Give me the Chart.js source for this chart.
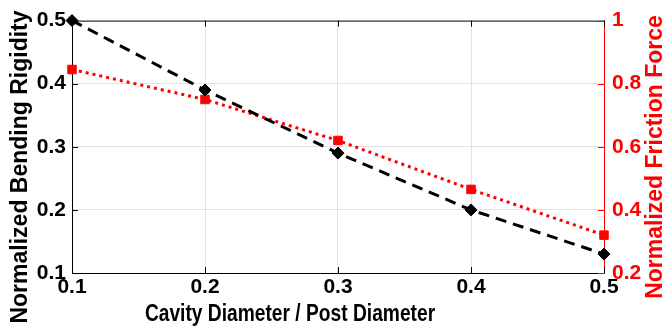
<!DOCTYPE html>
<html>
<head>
<meta charset="utf-8">
<script src="https://cdn.jsdelivr.net/npm/chart.js@4.4.0/dist/chart.umd.min.js"></script>
<style>
  html, body { margin: 0; padding: 0; background: #fff; }
  #wrap { width: 663px; height: 326px; }
</style>
</head>
<body>
<div id="wrap"><canvas id="rigidityChart" width="663" height="326"></canvas></div>
<script>
// values
var diameterRatio = [0.1, 0.2, 0.3, 0.4, 0.5];
var bendingRigidity = [0.5, 0.39, 0.29, 0.2, 0.13];
var frictionForce = [0.845, 0.75, 0.62, 0.465, 0.32];

var xTicks = [0.1, 0.2, 0.3, 0.4, 0.5];
var leftTicks = [0.1, 0.2, 0.3, 0.4, 0.5];
var rightTicks = [0.2, 0.4, 0.6, 0.8, 1];

var xTitle = 'Cavity Diameter / Post Diameter';
var leftTitle = 'Normalized Bending Rigidity';
var rightTitle = 'Normalized Friction Force';

var FONT = "'Liberation Sans', Arial, Helvetica, sans-serif";
var RED = '#ff0000';
var GRID = '#e2e2e2';

function fixedTicks(values) {
    return function (scale) {
        scale.ticks = values.map(function (v) { return { value: v }; });
    };
}
function tickText(v) { return String(Math.round(v * 10) / 10); }
function innerGrid(n) {
    return function (c) {
        return (c.index === 0 || c.index === n - 1) ? 'rgba(0,0,0,0)' : GRID;
    };
}

// MATLAB style frame: top edge plus inward ticks, and the three axis titles
var framePlugin = {
    id: 'frame',
    beforeDatasetsDraw: function (chart) {
        var ctx = chart.ctx, a = chart.chartArea;
        var sx = chart.scales.x, sy = chart.scales.y, sy2 = chart.scales.y2;
        var len = 6;
        ctx.save();
        ctx.lineWidth = 1;
        ctx.strokeStyle = '#000';
        ctx.beginPath();
        ctx.moveTo(a.left, a.top + 0.5);
        ctx.lineTo(a.right, a.top + 0.5);
        xTicks.forEach(function (v) {
            var px = Math.round(sx.getPixelForValue(v)) + 0.5;
            ctx.moveTo(px, a.bottom); ctx.lineTo(px, a.bottom - len);
            ctx.moveTo(px, a.top); ctx.lineTo(px, a.top + len);
        });
        leftTicks.forEach(function (v) {
            var py = Math.round(sy.getPixelForValue(v)) + 0.5;
            ctx.moveTo(a.left, py); ctx.lineTo(a.left + len, py);
        });
        ctx.stroke();
        ctx.strokeStyle = RED;
        ctx.beginPath();
        rightTicks.forEach(function (v) {
            var py = Math.round(sy2.getPixelForValue(v)) + 0.5;
            ctx.moveTo(a.right, py); ctx.lineTo(a.right - len, py);
        });
        ctx.stroke();
        ctx.restore();
    },
    afterDraw: function (chart) {
        var ctx = chart.ctx;
        ctx.save();
        ctx.textAlign = 'center';
        ctx.textBaseline = 'alphabetic';

        // x title sits low and slightly condensed, cut by the bottom edge
        ctx.save();
        ctx.translate(290, 321);
        ctx.scale(0.96, 1.15);
        ctx.fillStyle = '#000';
        ctx.font = 'bold 20px ' + FONT;
        ctx.fillText(xTitle, 0, 0);
        ctx.restore();

        ctx.save();
        ctx.translate(27, 167);
        ctx.rotate(-Math.PI / 2);
        ctx.fillStyle = '#000';
        ctx.font = 'bold 23px ' + FONT;
        ctx.fillText(leftTitle, 0, 0);
        ctx.restore();

        ctx.save();
        ctx.translate(662, 157);
        ctx.rotate(-Math.PI / 2);
        ctx.fillStyle = RED;
        ctx.font = 'bold 23px ' + FONT;
        ctx.fillText(rightTitle, 0, 0);
        ctx.restore();

        ctx.restore();
    }
};

document.addEventListener('DOMContentLoaded', function () {
    var ctx = document.getElementById('rigidityChart').getContext('2d');
    var tickFont = { family: FONT, size: 21, weight: 'bold' };

    var chart = new Chart(ctx, {
        type: 'line',
        data: {
            datasets: [{
                label: 'Bending Rigidity',
                data: diameterRatio.map(function (d, i) { return { x: d, y: bendingRigidity[i] }; }),
                yAxisID: 'y',
                borderColor: '#000',
                borderWidth: 3,
                borderDash: [11, 7],
                pointStyle: 'rectRot',
                pointRadius: 6,
                pointBackgroundColor: '#000',
                pointBorderColor: '#000',
                pointBorderWidth: 1,
                fill: false,
                tension: 0,
                clip: false
            }, {
                label: 'Friction Force',
                data: diameterRatio.map(function (d, i) { return { x: d, y: frictionForce[i] }; }),
                yAxisID: 'y2',
                borderColor: RED,
                borderWidth: 3,
                borderDash: [3, 4],
                pointStyle: 'rect',
                pointRadius: 6,
                pointBackgroundColor: RED,
                pointBorderColor: RED,
                pointBorderWidth: 1,
                fill: false,
                tension: 0,
                clip: false
            }]
        },
        options: {
            responsive: false,
            animation: false,
            layout: { padding: { top: 19, left: 0, right: 0, bottom: 0 } },
            plugins: {
                legend: { display: false },
                tooltip: { enabled: false }
            },
            scales: {
                x: {
                    type: 'linear',
                    min: 0.1,
                    max: 0.5,
                    afterBuildTicks: fixedTicks(xTicks),
                    afterFit: function (s) { s.height = 53; },
                    grid: { color: innerGrid(xTicks.length), drawTicks: false },
                    border: { color: '#000', width: 1 },
                    ticks: {
                        color: '#000',
                        font: tickFont,
                        padding: 2,
                        maxRotation: 0,
                        callback: function (v) { return tickText(v); }
                    }
                },
                y: {
                    type: 'linear',
                    position: 'left',
                    min: 0.1,
                    max: 0.5,
                    afterBuildTicks: fixedTicks(leftTicks),
                    afterFit: function (s) { s.width = 72; },
                    grid: { color: innerGrid(leftTicks.length), drawTicks: false },
                    border: { color: '#000', width: 1 },
                    ticks: {
                        color: '#000',
                        font: tickFont,
                        padding: 6,
                        callback: function (v) { return tickText(v); }
                    }
                },
                y2: {
                    type: 'linear',
                    position: 'right',
                    min: 0.2,
                    max: 1,
                    afterBuildTicks: fixedTicks(rightTicks),
                    afterFit: function (s) { s.width = 59; },
                    grid: { drawOnChartArea: false, drawTicks: false },
                    border: { color: RED, width: 1 },
                    ticks: {
                        color: RED,
                        font: tickFont,
                        padding: 8,
                        callback: function (v) { return tickText(v); }
                    }
                }
            }
        },
        plugins: [framePlugin]
    });
});
</script>
</body>
</html>
